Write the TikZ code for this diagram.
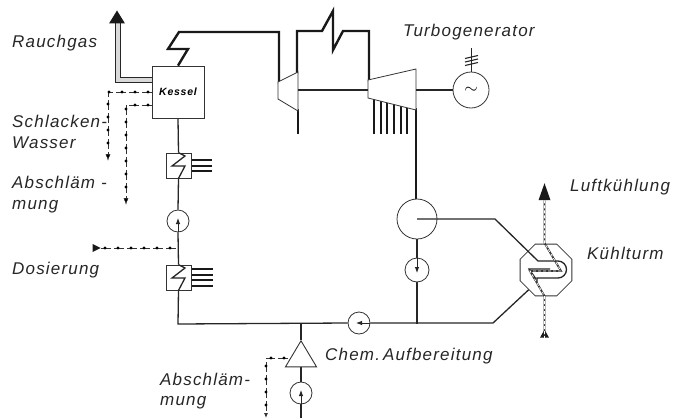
\documentclass[tikz,border=0pt]{standalone}
\usepackage{fontspec}
\setmainfont[LetterSpace=7]{Liberation Sans}
\usetikzlibrary{decorations.markings,shapes.geometric,arrows.meta}
\pgfdeclarelayer{edgelayer}
\pgfdeclarelayer{nodelayer}
\pgfsetlayers{edgelayer,nodelayer,main}
\tikzstyle{label}=[anchor=base west, inner sep=0, font=\itshape\fontsize{17}{17}\selectfont, text=black!85]
\tikzstyle{kessel}=[rectangle, draw=black!80, fill=white, line width=0.8, minimum size=52, inner sep=0, font=\itshape\bfseries\fontsize{10.5}{10.5}\selectfont]
\tikzstyle{heater}=[rectangle, draw=black!80, fill=white, line width=0.8, minimum size=25]
\tikzstyle{pump}=[circle, draw=black!80, fill=white, line width=0.8, minimum size=22, inner sep=0]
\tikzstyle{thin pipe}=[draw=black!85, line width=1.3]
\tikzstyle{steam}=[draw=black!90, line width=2.4]
\tikzstyle{stub}=[draw=black!90, line width=2.0]
\tikzstyle{casing}=[draw=black!80, fill=white, line width=0.8]
\tikzstyle{pumparrow}=[draw=black!85, line width=0.9, -{Latex[length=6,width=4.5]}]
\tikzstyle{rauch}=[draw=black!85, line width=1.0, double=black!15, double distance=3.5]
\tikzstyle{luft}=[draw=black!80, line width=1.8, postaction={draw=white, line width=0.7, dash pattern=on 3 off 2}]
\tikzstyle{head}=[isosceles triangle, isosceles triangle stretches, shape border rotate=90, fill=black!90, inner sep=0, minimum width=16, minimum height=13]
\tikzstyle{dotline}=[draw=black!80, line width=0.8, dash pattern=on 10 off 3, postaction={decorate}, decoration={markings, mark=between positions 4pt and -3pt step 13pt with {\fill [black] circle (1.6);}}]
\begin{document}
\begin{tikzpicture}[x=1pt, y=-1pt]
    \useasboundingbox (0,0) rectangle (675,418);
    \begin{pgfonlayer}{nodelayer}
        \node [style=kessel] (kessel) at (178, 92) {Kessel};
        \node [style=heater] (heaterA) at (178.5, 165.5) {};
        \node [style=heater] (heaterB) at (178.5, 277.5) {};
        \node [style=pump] (pumpA) at (178, 221) {};
        \node [style=pump, minimum size=24] (pumpB) at (417, 270) {};
        \node [style=pump] (pumpC) at (359, 323) {};
        \node [style=pump] (pumpD) at (301, 393) {};
        \node [style=pump, minimum size=40] (condenser) at (417, 219) {};
        \node [style=pump, minimum size=36] (generator) at (471, 90) {\fontsize{17}{17}\selectfont$\sim$};
        \node [regular polygon, regular polygon sides=8, draw=black!80, fill=white, line width=0.8, minimum size=56, inner sep=0] (tower) at (546, 270) {};
        \node [isosceles triangle, isosceles triangle stretches, shape border rotate=90, draw=black!80, fill=white, line width=0.9, inner sep=0, minimum height=26, minimum width=31] (chem) at (301, 358) {};

        \node [style=head] (rauchTip) at (117, 19) {};
        \node [style=head, minimum height=17, minimum width=12] (luftTip) at (544.5, 196) {};
        \node [style=head, minimum height=8, minimum width=9] (luftFoot) at (544.5, 335) {};
        \node [style=head, minimum height=8, minimum width=8, shape border rotate=0] (dosTip) at (95, 248) {};

        \node [style=label] (rauchgas) at (12, 47) {Rauchgas};
        \node [style=label] (schlacken) at (12, 127) {Schlacken-};
        \node [style=label] (wasser) at (12, 148) {Wasser};
        \node [style=label] (abschlA) at (12, 188) {Abschläm -};
        \node [style=label] (mungA) at (12, 209) {mung};
        \node [style=label] (dosierung) at (12, 274) {Dosierung};
        \node [style=label] (abschlB) at (160, 385) {Abschläm-};
        \node [style=label] (mungB) at (160, 405) {mung};
        \node [style=label] (aufbereitung) at (325, 360) {Chem.\kern3pt Aufbereitung};
        \node [style=label] (turbogenerator) at (403, 36) {Turbogenerator};
        \node [style=label] (luftkuehlung) at (570, 191) {Luftkühlung};
        \node [style=label] (kuehlturm) at (587, 259) {Kühlturm};

        % arrows inside the pumps
        \draw [style=pumparrow] (pumpA.south) to ([yshift=3]pumpA.center);
        \draw [style=pumparrow] (pumpB.north) to ([yshift=-3]pumpB.center);
        \draw [style=pumparrow] (pumpC.east) to ([xshift=-3]pumpC.center);
        \draw [style=pumparrow] (pumpD.south) to ([yshift=3]pumpD.center);
    \end{pgfonlayer}

    \coordinate (rauchBend) at (118, 80);
    \coordinate (rauchEnd) at (152, 80);
    \coordinate (slagA) at (152, 92);
    \coordinate (slagB) at (108, 92);
    \coordinate (slagC) at (108, 161);
    \coordinate (drainA) at (152, 105);
    \coordinate (drainB) at (126, 105);
    \coordinate (drainC) at (126, 205);
    \coordinate (dosJoin) at (178, 248);
    \coordinate (floorL) at (178, 324);
    \coordinate (floorM) at (301, 324);
    \coordinate (floorP) at (417, 324);
    \coordinate (floorR) at (493, 323);
    \coordinate (hookIn) at (538, 261);
    \coordinate (hookOut) at (537, 282);
    \coordinate (bleed) at (288, 358);
    \coordinate (bleedB) at (266, 358);
    \coordinate (bleedC) at (266, 418);
    \coordinate (feedEnd) at (301, 418);

    \begin{pgfonlayer}{edgelayer}
        % flue gas and drains
        \draw [style=rauch] (rauchEnd) -- (rauchBend) -- (118, 22);
        \draw [style=dotline, -{Latex[length=7,width=5]}] (slagA) -- (slagB) -- (slagC);
        \draw [style=dotline, -{Latex[length=7,width=5]}] (drainA) -- (drainB) -- (drainC);
        \draw [style=dotline] (dosTip.east) -- (dosJoin);
        \draw [style=dotline, -{Latex[length=5,width=4]}] (bleed) -- (bleedB) -- (bleedC);

        % feed water
        \draw [style=thin pipe] (kessel.south) -- (heaterA.north);
        \draw [style=thin pipe] (heaterA.south) -- (pumpA.north);
        \draw [style=thin pipe] (pumpA.south) -- (heaterB.north);
        \draw [style=thin pipe] (heaterB.south) -- (floorL) -- (pumpC.west);
        \draw [style=thin pipe] (pumpC.east) -- (floorR) -- (hookOut);
        \draw [style=thin pipe] (floorM) -- (chem.apex);
        \draw [style=thin pipe] (chem.south) -- (pumpD.north);
        \draw [style=thin pipe] (pumpD.south) -- (feedEnd);
        \draw [style=thin pipe] (condenser.south) -- (pumpB.north);
        \draw [style=thin pipe] (pumpB.south) -- (floorP);

        % steam
        \draw [style=steam] (kessel.north) -- (188, 49) -- (168, 49) -- (179, 32) -- (279, 32) -- (279, 84);
        \draw [style=steam] (297, 74) -- (297, 31) -- (322, 31) -- (333, 11) -- (333, 50) -- (343, 31) -- (369, 31) -- (369, 82);
        \draw [style=steam] (298, 109) -- (298, 134);
        \draw [style=steam] (416, 108) -- (416, 200);
        \foreach \xpos in {374, 381, 387, 394, 401, 407}
            \draw [style=stub] (\xpos, 98) -- (\xpos, 134);
        \foreach \ypos in {160, 165.5, 171}
            \draw [style=stub] (heaterA.east |- 0, \ypos) -- (212, \ypos);
        \foreach \ypos in {269, 275, 280, 286}
            \draw [style=stub] (heaterB.east |- 0, \ypos) -- (213, \ypos);
    \end{pgfonlayer}

    % turbines
    \draw [style=casing] (278, 82) -- (298, 72) -- (298, 111) -- (278, 99) -- cycle;
    \draw [style=casing] (368, 80) -- (416, 69) -- (416, 110) -- (368, 98) -- cycle;
    \draw [style=thin pipe] (298, 90) -- (368, 90);
    \draw [style=thin pipe] (416, 90) -- (generator.west);

    % generator leads
    \draw [style=thin pipe, line width=0.9] (generator.north) -- (471, 48);
    \foreach \ypos in {57, 60.5, 64}
        \draw [style=thin pipe, line width=1.1] (465, \ypos+1.5) -- (478, \ypos-1.5);

    % heater coils
    \draw [style=thin pipe] (heaterA.north) -- (185, 156) -- (172, 166) -- (185, 166) -- (heaterA.south);
    \draw [style=thin pipe] (heaterB.north) -- (185, 268) -- (172, 278) -- (185, 278) -- (heaterB.south);

    % cooling tower
    \draw [style=thin pipe] (condenser.center) -- (495, 219) -- (hookIn) -- (558, 261) arc (-90:90:8.5) -- (537, 278) -- (hookOut);
    \draw [style=thin pipe] (550, 269) -- (529, 269) -- (536, 279);
    \draw [style=luft] (luftTip.south) -- (544.5, 243) -- (561, 271) -- (530, 271) -- (544.5, 296) -- (luftFoot.south);
\end{tikzpicture}
\end{document}
